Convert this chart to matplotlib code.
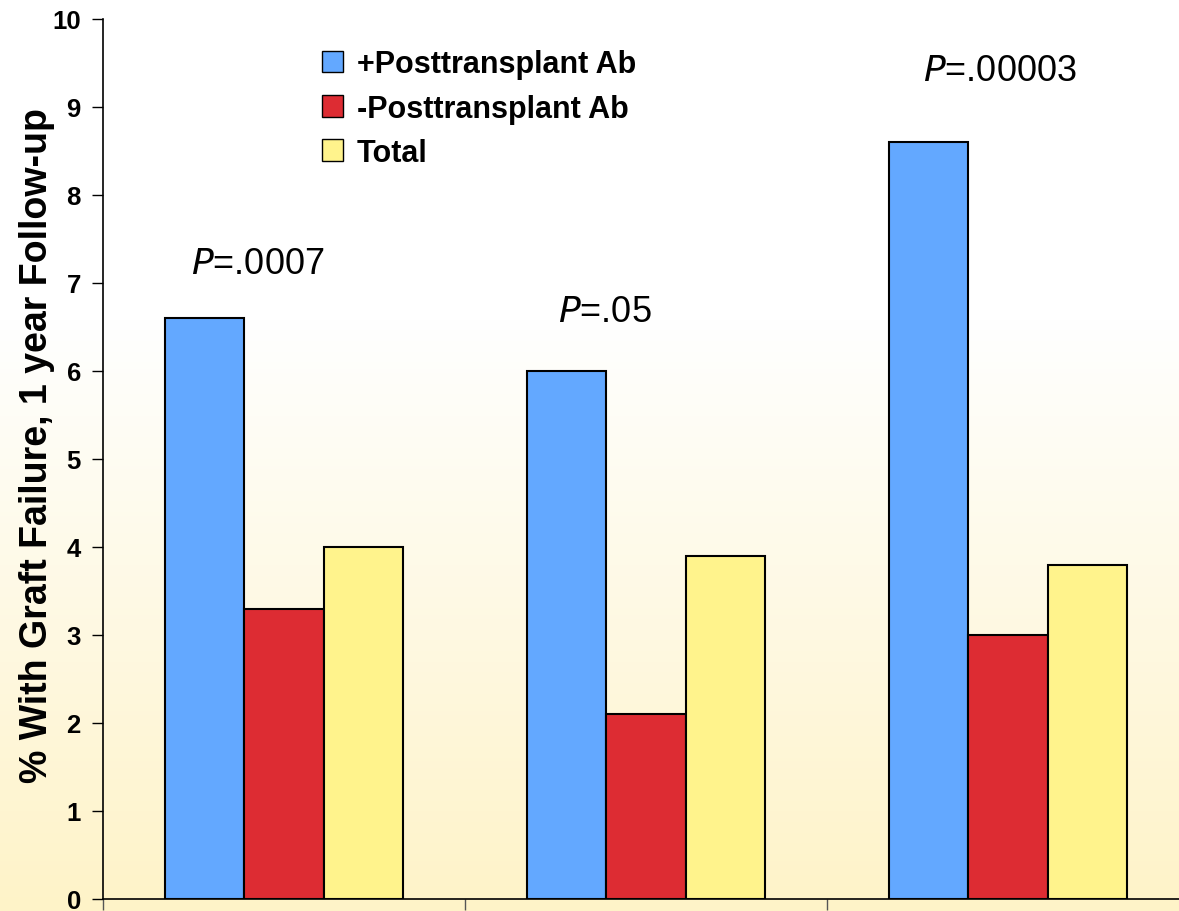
import numpy as np
import matplotlib
matplotlib.use("Agg")
import matplotlib.pyplot as plt
from matplotlib.colors import LinearSegmentedColormap

plt.rcParams["font.family"] = ["Liberation Sans", "DejaVu Sans"]

### data ###
groups = ["A", "B", "C"]
pos_ab = [6.6, 6.0, 8.6]
neg_ab = [3.3, 2.1, 3.0]
total = [4.0, 3.9, 3.8]
p_labels = [".0007", ".05", ".00003"]
series_names = ["+Posttransplant Ab", "-Posttransplant Ab", "Total"]
colors = ["#63A8FF", "#DD2C33", "#FFF38C"]

# placement of the P-value labels relative to group centre / blue bar top
p_dx = [-0.072, -0.113, -0.022]
p_dy = [0.62, 0.68, 0.81]

fig = plt.figure(figsize=(11.79, 9.12), dpi=100)

# background gradient (white on top, pale yellow at bottom)
bg = fig.add_axes([0, 0, 1, 1], zorder=-1)
bg_cmap = LinearSegmentedColormap.from_list("bg", [(0, "#FFFFFF"), (0.35, "#FFFFFF"), (1, "#FEF3C8")])
bg.imshow(np.linspace(0, 1, 256).reshape(-1, 1), aspect="auto", cmap=bg_cmap, extent=[0, 1, 1, 0])
bg.axis("off")

# axes: left spine at x=103, bottom y=900, top y=20; group width 362 px
x0, w = 103 / 1179, 3 * 362 / 1179
ax = fig.add_axes([x0, 12 / 912, w, 880 / 912])
ax.patch.set_alpha(0)

x = np.arange(len(groups)) + 0.5
bw = 0.22
for i, (vals, name) in enumerate(zip([pos_ab, neg_ab, total], series_names)):
    ax.bar(x + (i - 1) * bw, vals, bw, color=colors[i], edgecolor="black", linewidth=1.5, label=name)

for xi, top, p, dx, dy in zip(x, pos_ab, p_labels, p_dx, p_dy):
    ax.text(xi + dx, top + dy, r"$\it{P}$=" + p, fontsize=26, ha="center", va="center")

ax.set_xlim(0, 3)
ax.set_ylim(0, 10)
ax.set_yticks(range(11))
ax.set_xticks([0, 1, 2, 3])
ax.set_xticklabels([])
ax.tick_params(axis="y", direction="out", length=8, width=1, labelsize=18.5, pad=8)
ax.tick_params(axis="x", direction="out", length=8, width=1, colors="#555555")
for lbl in ax.get_yticklabels():
    lbl.set_fontweight("bold")
ax.spines["top"].set_visible(False)
ax.spines["right"].set_visible(False)
ax.spines["left"].set_linewidth(1.2)
ax.spines["bottom"].set_linewidth(1.2)

ax.set_ylabel("% With Graft Failure, 1 year Follow-up", fontsize=27, fontweight="bold")
ax.yaxis.set_label_coords(-0.044, 0.516)

leg = ax.legend(loc="upper left", bbox_to_anchor=(0.176, 0.997), frameon=False,
                prop={"size": 22, "weight": "bold"}, handlelength=0.7, handleheight=0.7,
                handletextpad=0.45, labelspacing=0.47)
for h in leg.legend_handles:
    h.set_linewidth(1.0)

fig.savefig("out.png", dpi=100)
